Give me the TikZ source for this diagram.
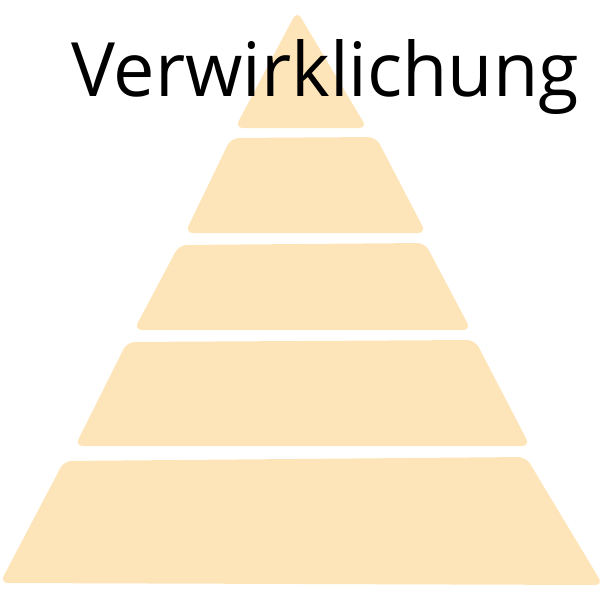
\documentclass[tikz,border=0pt]{standalone}
\usepackage{fontspec}
\setmainfont{Open Sans}
\usepackage{tikz}
\definecolor{sand}{RGB}{254,229,185}

\begin{document}
\begin{tikzpicture}[x=1pt,y=-1pt,
        tier/.style={fill=sand,draw=none,rounded corners=8pt}]
        \useasboundingbox (0,0) rectangle (600,600);
        \fill[tier] (297,11) -- (367,128) -- (235,128) -- cycle;
        \fill[tier] (231,138) -- (376,137) -- (426,233) -- (185,233) -- cycle;
        \fill[tier] (179,245) -- (425,243) -- (471,330) -- (134,330) -- cycle;
        \fill[tier] (127,342) -- (475,340) -- (530,446) -- (75,446) -- cycle;
        \fill[tier] (64,461) -- (526,457) -- (603,585) -- (0,583) -- cycle;
        \node[anchor=base west,inner sep=0pt,xscale=0.984,font=\fontsize{75}{80}\selectfont] (titel) at (71,96) {Verwirklichung};
    \end{tikzpicture}
\end{document}
